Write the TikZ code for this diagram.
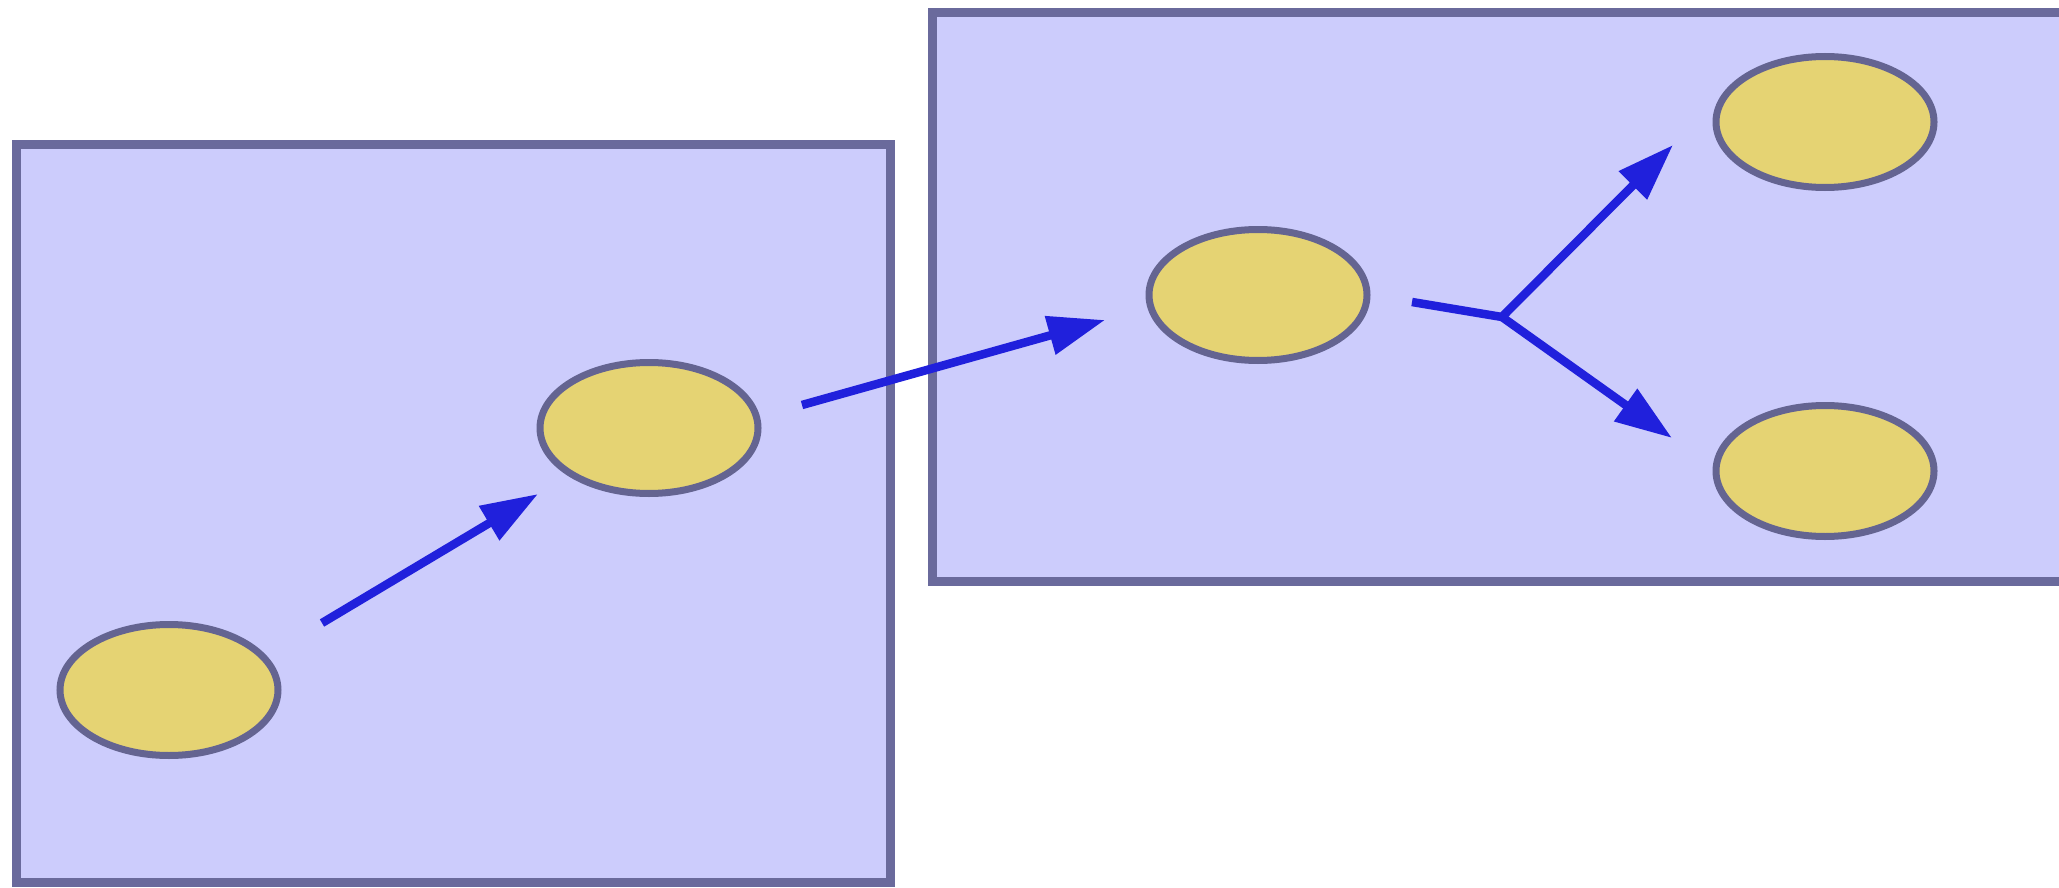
\documentclass[tikz,border=0pt]{standalone}
\usetikzlibrary{arrows.meta,shapes.geometric}
\definecolor{boxfill}{RGB}{204,204,252}
\definecolor{boxline}{RGB}{106,106,156}
\definecolor{ellfill}{RGB}{229,211,115}
\definecolor{ellline}{RGB}{100,100,145}
\definecolor{arrcol}{RGB}{32,32,220}
\tikzset{
  panel/.style={draw=boxline,fill=boxfill,line width=9pt},
  blob/.style={ellipse,draw=ellline,fill=ellfill,line width=7pt,inner sep=0pt,minimum width=218pt,minimum height=131pt},
  arr/.style={draw=arrcol,line width=8.5pt,-{Triangle[length=57pt,width=38pt]}},
  seg/.style={draw=arrcol,line width=8.5pt},
}
\begin{document}
\begin{tikzpicture}[x=1pt,y=-1pt]
\useasboundingbox[fill=white] (0,0) rectangle (2059,888);
% panels
\draw[panel] (16,145) rectangle (890,882);
\draw[panel] (932,13) rectangle (2100,581);
% ellipses
\node[blob] (e1) at (169,690) {};
\node[blob] (e2) at (649,428) {};
\node[blob] (e3) at (1258,295) {};
\node[blob] (e4) at (1825,122) {};
\node[blob] (e5) at (1825,471) {};
% connector end points
\coordinate (a1s) at (322,623);
\coordinate (a1e) at (538,494);
\coordinate (a2s) at (802,405);
\coordinate (a2e) at (1105,320);
\coordinate (bs) at (1412,302);
\coordinate (bj) at (1502,317);
\coordinate (b1e) at (1673,145);
\coordinate (b2e) at (1672,438);
% connectors
\draw[arr] (a1s) -- (a1e);
\draw[arr] (a2s) -- (a2e);
\draw[seg] (bs) -- (bj);
\draw[arr] (bj) -- (b1e);
\draw[arr] (bj) -- (b2e);
\end{tikzpicture}
\end{document}
